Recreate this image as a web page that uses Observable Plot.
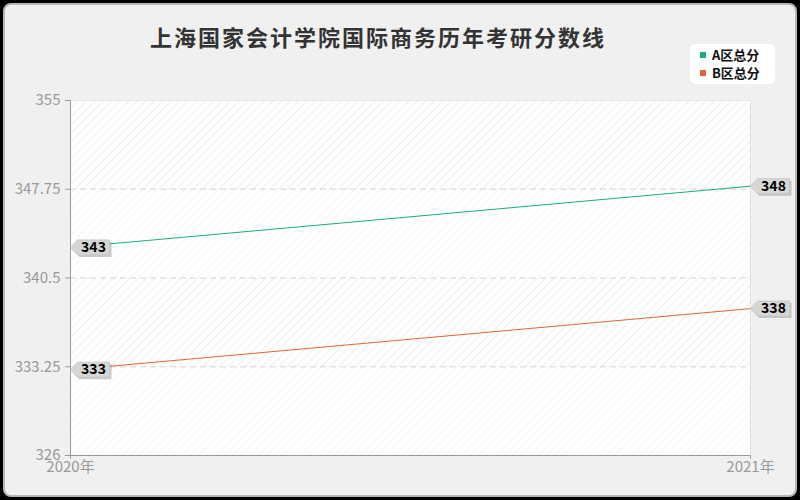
<!DOCTYPE html>
<html>
<head>
<meta charset="utf-8">
<script src="https://cdn.jsdelivr.net/npm/d3@7"></script>
<script src="https://cdn.jsdelivr.net/npm/@observablehq/plot@0.6"></script>
<style>
  html, body { margin: 0; padding: 0; background: #000; }
  #frame { position: absolute; left: 3px; top: 3px; width: 790px; height: 490px; background: #f0f0f0; border: 2px solid #b8b8b8; border-radius: 8px; }
  #chart { position: absolute; left: 0; top: 0; }
  #title { position: absolute; left: 0; width: 756px; top: 20px; text-align: center; font: bold 22px "Noto Sans CJK SC", sans-serif; letter-spacing: 2px; color: #333; }
  #legend { position: absolute; left: 690px; top: 44px; width: 85px; height: 40px; background: #fff; border-radius: 5px; font: bold 13px "Noto Sans CJK SC", sans-serif; color: #111; }
  .item { position: absolute; left: 10px; height: 16px; line-height: 16px; }
  .sw { display: inline-block; width: 6px; height: 6px; margin-right: 6px; vertical-align: 2px; }
</style>
</head>
<body>
<svg width="0" height="0" style="position:absolute">
  <defs>
    <pattern id="h1" width="6" height="6" patternUnits="userSpaceOnUse" patternTransform="rotate(45)">
      <rect width="6" height="6" fill="#ffffff"></rect>
      <line x1="0" y1="0" x2="0" y2="6" stroke="#eeeeee" stroke-width="2"></line>
    </pattern>
    <pattern id="h2" width="6" height="6" patternUnits="userSpaceOnUse" patternTransform="rotate(45)">
      <rect width="6" height="6" fill="#ffffff"></rect>
      <line x1="0" y1="0" x2="0" y2="6" stroke="#f6f6f6" stroke-width="2"></line>
    </pattern>
  </defs>
</svg>
<div id="frame"></div>
<div id="chart"></div>
<div id="title">上海国家会计学院国际商务历年考研分数线</div>
<div id="legend"></div>
<script>
const years = [2020, 2021];
const seriesNames = ["A区总分", "B区总分"];
const seriesA = [343, 348];
const seriesB = [333, 338];
const yTicks = [326, 333.25, 340.5, 347.75, 355];
const colors = ["#17ad86", "#e4662f"];

const data = [];
years.forEach((yr, i) => {
  data.push({year: yr, value: seriesA[i], series: seriesNames[0]});
  data.push({year: yr, value: seriesB[i], series: seriesNames[1]});
});
const bands = [];
for (let i = 0; i < yTicks.length - 1; i++) bands.push({y1: yTicks[i], y2: yTicks[i + 1], k: i % 2});

const callout = {
  draw(ctx) {
    ctx.moveTo(0, 0);
    ctx.lineTo(7, -7.5);
    ctx.lineTo(39, -7.5);
    ctx.lineTo(39, 7.5);
    ctx.lineTo(7, 7.5);
    ctx.closePath();
  }
};

const plot = Plot.plot({
  width: 800,
  height: 500,
  marginLeft: 70,
  marginRight: 50,
  marginTop: 100,
  marginBottom: 45,
  style: {background: "transparent", fontFamily: "'Noto Sans CJK SC', sans-serif", fontSize: "15px"},
  x: {domain: [years[0], years[years.length - 1]], ticks: years, tickFormat: d => d + "年"},
  y: {domain: [yTicks[0], yTicks[yTicks.length - 1]], ticks: yTicks},
  color: {domain: seriesNames, range: colors},
  marks: [
    Plot.rect(bands.filter(b => b.k === 1), {x1: years[0], x2: years[1], y1: "y1", y2: "y2", fill: "url(#h1)"}),
    Plot.rect(bands.filter(b => b.k === 0), {x1: years[0], x2: years[1], y1: "y1", y2: "y2", fill: "url(#h2)"}),
    Plot.ruleY(yTicks.slice(1, -1), {stroke: "#e2e2e2", strokeDasharray: "6,4", strokeWidth: 1.5}),
    Plot.ruleY([yTicks[yTicks.length - 1]], {stroke: "#e6e6e6"}),
    Plot.ruleX([years[1]], {stroke: "#e0e0e0"}),
    Plot.axisY({ticks: yTicks, tickFormat: d => String(d), tickSize: 5, tickPadding: 5, fontSize: 15, fill: "#999", stroke: "#999", label: null}),
    Plot.axisX({ticks: years, tickFormat: d => d + "年", tickSize: 4, tickPadding: 2, fontSize: 15, fill: "#999", stroke: "#999", label: null}),
    Plot.ruleX([years[0]], {stroke: "#999"}),
    Plot.ruleY([yTicks[0]], {stroke: "#999"}),
    Plot.line(data, {x: "year", y: "value", stroke: "series", strokeWidth: 1}),
    Plot.dot(data, {x: "year", y: "value", symbol: callout, fill: "#999", fillOpacity: 0.5, stroke: "none", dx: 2, dy: 2}),
    Plot.dot(data, {x: "year", y: "value", symbol: callout, fill: "#d6d6d6", stroke: "#c4c4c4", strokeWidth: 0.8}),
    Plot.text(data, {x: "year", y: "value", text: d => String(d.value), dx: 23, fontSize: 14, fontWeight: "bold", fill: "#000"})
  ]
});
document.getElementById("chart").appendChild(plot);

const legend = document.getElementById("legend");
seriesNames.forEach((name, i) => {
  const it = document.createElement("div");
  it.className = "item";
  it.style.top = (3 + i * 18) + "px";
  it.innerHTML = `<span class="sw" style="background:${colors[i]}"></span>${name}`;
  legend.appendChild(it);
});
</script>
</body>
</html>
